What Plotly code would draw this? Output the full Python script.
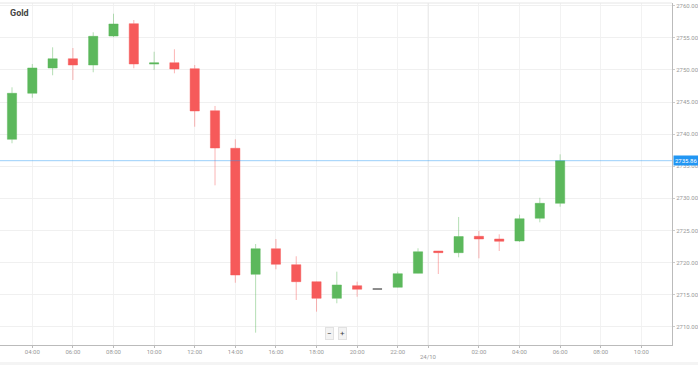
import plotly.graph_objects as go

# ---- data (hourly candles, 23/10 03:00 -> 24/10 06:00) ----
times = [
    "2024-10-23 03:00", "2024-10-23 04:00", "2024-10-23 05:00", "2024-10-23 06:00",
    "2024-10-23 07:00", "2024-10-23 08:00", "2024-10-23 09:00", "2024-10-23 10:00",
    "2024-10-23 11:00", "2024-10-23 12:00", "2024-10-23 13:00", "2024-10-23 14:00",
    "2024-10-23 15:00", "2024-10-23 16:00", "2024-10-23 17:00", "2024-10-23 18:00",
    "2024-10-23 19:00", "2024-10-23 20:00", "2024-10-23 21:00", "2024-10-23 22:00",
    "2024-10-23 23:00", "2024-10-24 00:00", "2024-10-24 01:00", "2024-10-24 02:00",
    "2024-10-24 03:00", "2024-10-24 04:00", "2024-10-24 05:00", "2024-10-24 06:00",
]
opens = [2739.19, 2746.36, 2750.30, 2751.74, 2750.76, 2755.28, 2757.20, 2750.90,
         2751.12, 2750.19, 2743.64, 2737.79, 2718.16, 2722.15, 2719.66, 2717.01,
         2714.42, 2716.39, 2715.87, 2716.14, 2718.32, 2721.79, 2721.53, 2724.08,
         2723.66, 2723.35, 2726.89, 2729.22]
highs = [2747.29, 2750.92, 2753.52, 2753.41, 2755.86, 2758.75, 2757.77, 2752.83,
         2753.21, 2750.76, 2744.38, 2739.19, 2722.88, 2723.66, 2720.97, 2717.05,
         2718.57, 2717.01, 2715.87, 2718.57, 2722.21, 2721.80, 2727.09, 2724.91,
         2724.39, 2727.45, 2730.09, 2736.85]
lows = [2738.57, 2745.67, 2749.16, 2748.43, 2749.63, 2755.10, 2750.25, 2749.98,
        2749.47, 2741.15, 2732.02, 2716.85, 2709.07, 2718.94, 2714.16, 2712.34,
        2713.65, 2714.67, 2715.87, 2716.10, 2718.30, 2718.21, 2720.81, 2720.65,
        2721.79, 2723.20, 2726.26, 2728.69]
closes = [2746.36, 2750.30, 2751.74, 2750.76, 2755.23, 2757.15, 2750.92, 2751.10,
          2750.14, 2743.60, 2737.83, 2718.05, 2722.15, 2719.72, 2717.01, 2714.42,
          2716.50, 2715.83, 2715.87, 2718.26, 2721.68, 2721.53, 2724.05, 2723.66,
          2723.30, 2726.82, 2729.22, 2735.86]

tick_vals = ["2024-10-23 04:00", "2024-10-23 06:00", "2024-10-23 08:00", "2024-10-23 10:00",
             "2024-10-23 12:00", "2024-10-23 14:00", "2024-10-23 16:00", "2024-10-23 18:00",
             "2024-10-23 20:00", "2024-10-23 22:00", "2024-10-23 23:30", "2024-10-24 02:00",
             "2024-10-24 04:00", "2024-10-24 06:00", "2024-10-24 08:00", "2024-10-24 10:00"]
tick_text = ["04:00", "06:00", "08:00", "10:00", "12:00", "14:00", "16:00", "18:00",
             "20:00", "22:00", "", "02:00", "04:00", "06:00", "08:00", "10:00"]
day_break = "2024-10-23 23:30"
day_label = "24/10"

x_range = ["2024-10-23 02:24:30", "2024-10-24 11:30:40"]
y_range = [2707.15, 2760.42]

title = "Gold"
last_price = closes[-1]

GREEN = "#5cb85c"
RED = "#f65a5a"
GREY = "#777777"

fig = go.Figure()

groups = {"up": [], "down": [], "flat": []}
for i in range(len(times)):
    if closes[i] > opens[i]:
        groups["up"].append(i)
    elif closes[i] < opens[i]:
        groups["down"].append(i)
    else:
        groups["flat"].append(i)

styles = {
    "up": (GREEN, "rgba(92,184,92,0.45)"),
    "down": (RED, "rgba(246,90,90,0.45)"),
    "flat": (GREY, "rgba(119,119,119,0.9)"),
}
for key, idx in groups.items():
    if not idx:
        continue
    fill, line = styles[key]
    fig.add_trace(go.Candlestick(
        x=[times[i] for i in idx],
        open=[opens[i] for i in idx],
        high=[highs[i] for i in idx],
        low=[lows[i] for i in idx],
        close=[closes[i] for i in idx],
        increasing=dict(fillcolor=fill, line=dict(color=line, width=1)),
        decreasing=dict(fillcolor=fill, line=dict(color=line, width=1)),
        whiskerwidth=0,
        showlegend=False,
        hoverinfo="skip",
    ))

fig.update_layout(
    width=698, height=365,
    margin=dict(l=0, r=26, t=3, b=20),
    paper_bgcolor="white",
    plot_bgcolor="white",
    boxgap=0.35,
    font=dict(family="Roboto", color="#999999", size=6),
    xaxis=dict(
        type="date",
        range=x_range,
        rangeslider=dict(visible=False),
        tickmode="array",
        tickvals=tick_vals,
        ticktext=tick_text,
        showgrid=True,
        gridcolor="#f2f2f2",
        gridwidth=1,
        showline=True,
        linecolor="#bbbbbb",
        ticks="outside",
        ticklen=2,
        tickcolor="#bbbbbb",
        ticklabelstandoff=-1,
        tickfont=dict(size=6, color="#999999"),
        zeroline=False,
        fixedrange=True,
    ),
    yaxis=dict(
        side="right",
        range=y_range,
        tick0=2710,
        dtick=5,
        tickformat=".2f",
        showgrid=True,
        gridcolor="#f0f0f0",
        showline=True,
        linecolor="#bbbbbb",
        ticks="outside",
        ticklen=2,
        tickcolor="#cccccc",
        tickfont=dict(size=6, color="#999999"),
        zeroline=False,
        fixedrange=True,
    ),
    shapes=[
        dict(type="line", xref="paper", yref="paper", x0=0, x1=1, y0=1, y1=1,
             line=dict(color="#e6e6e6", width=1)),
        dict(type="line", xref="x", yref="paper", x0=day_break, x1=day_break, y0=0, y1=1,
             line=dict(color="#e8e8e8", width=1)),
        dict(type="line", xref="paper", yref="y", x0=0, x1=1, y0=last_price, y1=last_price,
             line=dict(color="rgba(33,150,243,0.45)", width=1)),
        dict(type="rect", xref="paper", yref="paper", x0=-0.01, x1=1.05, y0=-0.0585, y1=-0.0497,
             line=dict(width=0), fillcolor="#f4f4f4"),
    ],
    annotations=[
        dict(text="<b>" + title + "</b>", xref="paper", yref="paper", x=0.0125, y=0.971,
             xanchor="left", yanchor="middle", showarrow=False,
             font=dict(family="Roboto", size=9, color="#444444")),
        dict(text=day_label, xref="x", yref="paper", x=day_break, y=-0.035,
             xanchor="center", yanchor="middle", showarrow=False,
             font=dict(family="Roboto", size=6, color="#999999")),
        dict(text=f"{last_price:.2f}", xref="paper", yref="y", x=1.002, y=last_price,
             xanchor="left", yanchor="middle", showarrow=False,
             bgcolor="#2196f3", borderpad=1,
             font=dict(family="Roboto", size=6, color="white")),
        dict(text="−", xref="paper", yref="paper", x=0.491, y=0.035,
             xanchor="center", yanchor="middle", showarrow=False,
             bgcolor="#f3f3f3", bordercolor="#e2e2e2", borderwidth=1, borderpad=1,
             font=dict(family="Roboto", size=8, color="#444444")),
        dict(text="+", xref="paper", yref="paper", x=0.509, y=0.035,
             xanchor="center", yanchor="middle", showarrow=False,
             bgcolor="#f3f3f3", bordercolor="#e2e2e2", borderwidth=1, borderpad=1,
             font=dict(family="Roboto", size=8, color="#444444")),
    ],
)

fig.write_html(
    "out.html",
    config={"displayModeBar": False},
    post_script="document.body.style.margin='0';document.body.style.overflow='hidden';",
)
